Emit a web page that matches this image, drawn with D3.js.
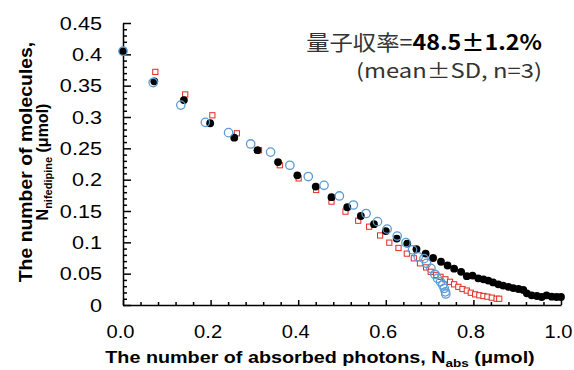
<!DOCTYPE html>
<html><head><meta charset="utf-8">
<script src="https://cdn.jsdelivr.net/npm/d3@7/dist/d3.min.js"></script>
<style>body{margin:0;background:#fff}svg{display:block}</style>
</head><body>
<svg id="c" width="574" height="370"></svg>
<script>
// ---- data ----
const blackX = [0,0.0715,0.139,0.199,0.254,0.307,0.354,0.398,0.440,0.476,0.512,0.543,0.573,0.600,0.625,0.649,0.670,0.691,0.708,0.726,0.741,0.756,0.772,0.785,0.798,0.811,0.823,0.834,0.845,0.857,0.868,0.880,0.891,0.903,0.914,0.922,0.933,0.945,0.956,0.967,0.979,0.990,1.000];
const blackY = [0.405,0.357,0.327,0.290,0.267,0.247,0.228,0.207,0.189,0.172,0.156,0.142,0.129,0.118,0.106,0.098,0.089,0.082,0.075,0.069,0.063,0.058,0.053,0.046,0.047,0.0425,0.041,0.039,0.036,0.033,0.031,0.029,0.027,0.0255,0.024,0.0186,0.0155,0.0144,0.0128,0.0155,0.0133,0.0128,0.0128];
const blueX = [0,0.069,0.132,0.188,0.241,0.2915,0.337,0.381,0.423,0.459,0.494,0.526,0.555,0.581,0.603,0.626,0.646,0.661,0.674,0.687,0.693,0.703,0.712,0.718,0.725,0.730,0.7335,0.736,0.737];
const blueY = [0.405,0.355,0.319,0.2915,0.275,0.257,0.244,0.223,0.205,0.191,0.174,0.1596,0.146,0.133,0.121,0.110,0.0995,0.088,0.077,0.074,0.0665,0.0585,0.049,0.0425,0.037,0.032,0.0266,0.021,0.0176];
const redX = [0,0.0738,0.142,0.204,0.260,0.3105,0.358,0.401,0.441,0.476,0.508,0.537,0.562,0.587,0.608,0.629,0.648,0.664,0.678,0.692,0.7025,0.715,0.725,0.736,0.7466,0.756,0.7656,0.775,0.785,0.794,0.804,0.8135,0.823,0.832,0.842,0.853,0.859];
const redY = [0.405,0.372,0.336,0.3027,0.274,0.247,0.223,0.202,0.1835,0.165,0.149,0.1345,0.125,0.111,0.0995,0.091,0.082,0.0745,0.0665,0.060,0.053,0.048,0.045,0.041,0.037,0.033,0.029,0.0255,0.023,0.0196,0.017,0.0155,0.0144,0.0133,0.0117,0.010,0.010];
const yTickVals = [0,0.05,0.1,0.15,0.2,0.25,0.3,0.35,0.4,0.45];
const yTickLabels = ["0","0.05","0.1","0.15","0.2","0.25","0.3","0.35","0.4","0.45"];
const xTickVals = [0,0.2,0.4,0.6,0.8,1.0];
const xTickLabels = ["0.0","0.2","0.4","0.6","0.8","1.0"];

// ---- chart ----
const svg = d3.select("#c");
const x = d3.scaleLinear().domain([0,1]).range([123,561]);
const y = d3.scaleLinear().domain([0,0.45]).range([305,23]);
const F = "Arial, 'Liberation Sans', sans-serif";

const yMinor = d3.range(0,46).map(i=>i/100).filter(v=>Math.round(v*100)%5!==0);
const xMinor = d3.range(0,26).map(i=>i*0.04).filter(v=>Math.round(v*100)%20!==0);

function styleAxis(g){
  g.selectAll("path,line").attr("stroke","#000").attr("stroke-width",1.5);
  g.selectAll("text").attr("font-family",F).attr("font-size",19).attr("fill","#000");
}
svg.append("g").attr("transform","translate(123,0)")
  .call(d3.axisLeft(y).tickValues(yMinor).tickSizeInner(-4).tickSizeOuter(0).tickFormat(""))
  .call(styleAxis).select(".domain").remove();
svg.append("g").attr("transform","translate(123,0)")
  .call(d3.axisLeft(y).tickValues(yTickVals).tickSizeInner(-8).tickSizeOuter(0).tickPadding(21)
    .tickFormat((d,i)=>yTickLabels[i]))
  .call(styleAxis)
  .selectAll("text").attr("x",0).attr("transform","translate(-21,0) scale(1.14,1)");
svg.append("g").attr("transform","translate(0,305)")
  .call(d3.axisBottom(x).tickValues(xMinor).tickSizeInner(-3).tickSizeOuter(0).tickFormat(""))
  .call(styleAxis).select(".domain").remove();
svg.append("g").attr("transform","translate(0,305)")
  .call(d3.axisBottom(x).tickValues(xTickVals).tickSizeInner(-5).tickSizeOuter(0).tickPadding(20)
    .tickFormat((d,i)=>xTickLabels[i]))
  .call(styleAxis)
  .selectAll("text").attr("transform","translate(-3,0) scale(1.06,1)");

// red squares
svg.append("g").selectAll("rect").data(redX.map((v,i)=>[v,redY[i]])).join("rect")
  .attr("x",d=>x(d[0])-2.6).attr("y",d=>y(d[1])-2.6).attr("width",5.2).attr("height",5.2)
  .attr("fill","#fff").attr("stroke","#e32a22").attr("stroke-width",1);
// black filled circles
svg.append("g").selectAll("circle").data(blackX.map((v,i)=>[v,blackY[i]])).join("circle")
  .attr("cx",d=>x(d[0])).attr("cy",d=>y(d[1])).attr("r",3.9).attr("fill","#000");
// blue open circles
svg.append("g").selectAll("circle").data(blueX.map((v,i)=>[v,blueY[i]])).join("circle")
  .attr("cx",d=>x(d[0])).attr("cy",d=>y(d[1])).attr("r",4.2).attr("fill","none")
  .attr("stroke","#5b9bd5").attr("stroke-width",1.3);

// x title
const xt = svg.append("text").attr("x",0).attr("y",0).attr("text-anchor","middle")
  .attr("transform","translate(320,363) scale(1.235,1)")
  .attr("font-family",F).attr("font-size",16).attr("font-weight","bold").attr("fill","#000");
xt.append("tspan").text("The number of absorbed photons, N");
xt.append("tspan").attr("font-size",11).attr("dy",4).text("abs");
xt.append("tspan").attr("dy",-4).text(" (μmol)");

// y title
const yt = svg.append("g").attr("transform","translate(0,162) rotate(-90)");
yt.append("text").attr("x",0).attr("y",0).attr("text-anchor","middle")
  .attr("transform","translate(0,32) scale(1.05,1)")
  .attr("font-family",F).attr("font-size",18.5).attr("font-weight","bold").text("The number of molecules,");
const yt2 = yt.append("text").attr("x",0).attr("y",48).attr("text-anchor","middle")
  .attr("font-family",F).attr("font-size",16).attr("font-weight","bold");
yt2.append("tspan").text("N");
yt2.append("tspan").attr("font-size",11).attr("dy",4).text("nifedipine");
yt2.append("tspan").attr("dy",-4).text(" (μmol)");

// annotation
const CJK = "'Noto Sans CJK JP', sans-serif";
const a1 = svg.append("text").attr("x",0).attr("y",0).attr("text-anchor","end")
  .attr("transform","translate(542,50) scale(1.11,1)")
  .attr("font-family",CJK).attr("font-size",21).attr("fill","#333");
a1.append("tspan").text("量子収率=");
a1.append("tspan").attr("font-weight","bold").attr("fill","#000").text("48.5±1.2%");
svg.append("text").attr("x",0).attr("y",0).attr("text-anchor","end")
  .attr("transform","translate(542,78) scale(1.22,1)")
  .attr("font-family",CJK).attr("font-size",19.5).attr("fill","#333").text("(mean±SD, n=3)");
</script>
</body></html>
